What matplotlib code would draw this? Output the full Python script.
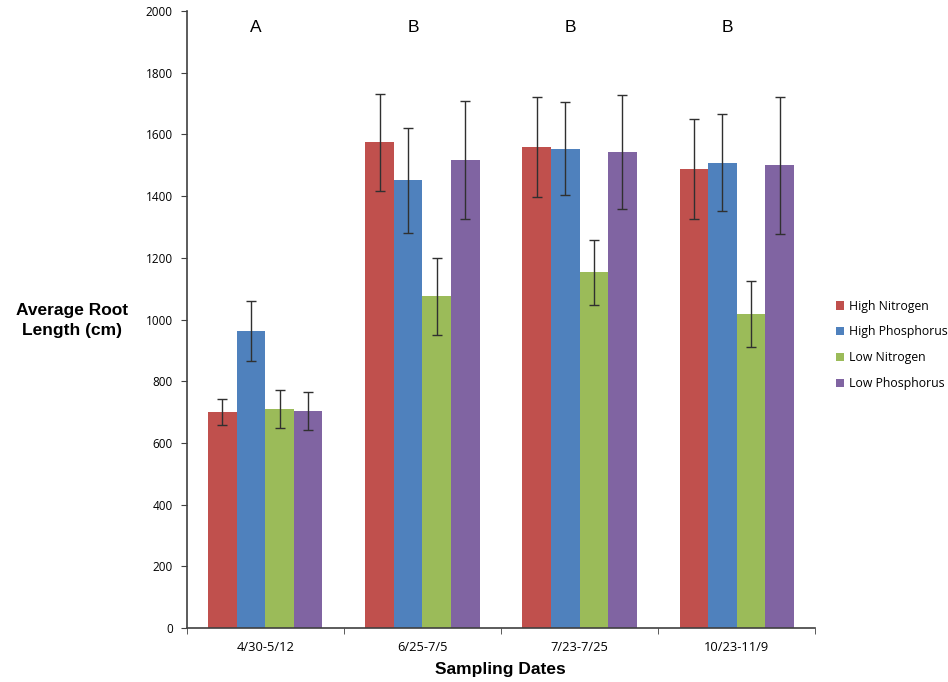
import matplotlib.pyplot as plt
import numpy as np

# data
dates = ['4/30-5/12', '6/25-7/5', '7/23-7/25', '10/23-11/9']
series = ['High Nitrogen', 'High Phosphorus', 'Low Nitrogen', 'Low Phosphorus']
high_n = [699, 1575, 1559, 1489]
high_p = [963, 1451, 1554, 1508]
low_n = [711, 1075, 1153, 1018]
low_p = [704, 1517, 1542, 1500]
high_n_err = [42, 157, 162, 162]
high_p_err = [97, 171, 150, 157]
low_n_err = [62, 124, 105, 106]
low_p_err = [62, 191, 184, 222]
letters = ['A', 'B', 'B', 'B']

colors = ['#C0504D', '#4F81BD', '#9BBB59', '#8064A2']
values = [high_n, high_p, low_n, low_p]
errors = [high_n_err, high_p_err, low_n_err, low_p_err]

plt.rcParams['font.family'] = ['Open Sans', 'DejaVu Sans']

fig = plt.figure(figsize=(9.48, 6.82), dpi=100)
ax = fig.add_axes([0.197, 0.079, 0.663, 0.905])

x = np.arange(len(dates))
w = 1 / 5.5  # excel gap width 150%
for i, (vals, errs) in enumerate(zip(values, errors)):
    ax.bar(x + (i - 1.5) * w, vals, w, color=colors[i], label=series[i],
           yerr=errs, error_kw=dict(ecolor='#303030', elinewidth=1, capsize=3.5, capthick=1))

for i, s in enumerate(letters):
    ax.text(i - 0.06, 1945, s, ha='center', va='center', fontsize=12.5,
            family=['Liberation Sans', 'DejaVu Sans'])

ax.set_xlim(-0.5, len(dates) - 0.5)
ax.set_ylim(0, 2000)
ax.set_yticks(range(0, 2001, 200))
ax.tick_params(axis='y', labelsize=8.5, direction='out', length=4, color='#404040', pad=6)
ax.set_xticks(x)
ax.set_xticklabels(dates, fontsize=9.3)
ax.set_xticks(np.arange(-0.5, len(dates)), minor=True)
ax.tick_params(axis='x', which='major', length=0, pad=9)
ax.tick_params(axis='x', which='minor', length=4, direction='out', color='#404040')
for sp in ['top', 'right']:
    ax.spines[sp].set_visible(False)
for sp in ['left', 'bottom']:
    ax.spines[sp].set_color('#404040')
    ax.spines[sp].set_linewidth(1.2)

fig.text(0.5275, 0.019, 'Sampling Dates', ha='center', va='center', fontsize=12.5,
         fontweight='bold', family=['Liberation Sans', 'DejaVu Sans'])
fig.text(0.076, 0.53, 'Average Root\nLength (cm)', ha='center', va='center', fontsize=12.5,
         fontweight='bold', linespacing=1.45, family=['Liberation Sans', 'DejaVu Sans'])

ax.legend(loc='center left', bbox_to_anchor=(1.015, 0.459), frameon=False, fontsize=8.8,
          handlelength=0.7, handleheight=0.7, handletextpad=0.4, labelspacing=1.05)

fig.savefig('out.png', dpi=100)
